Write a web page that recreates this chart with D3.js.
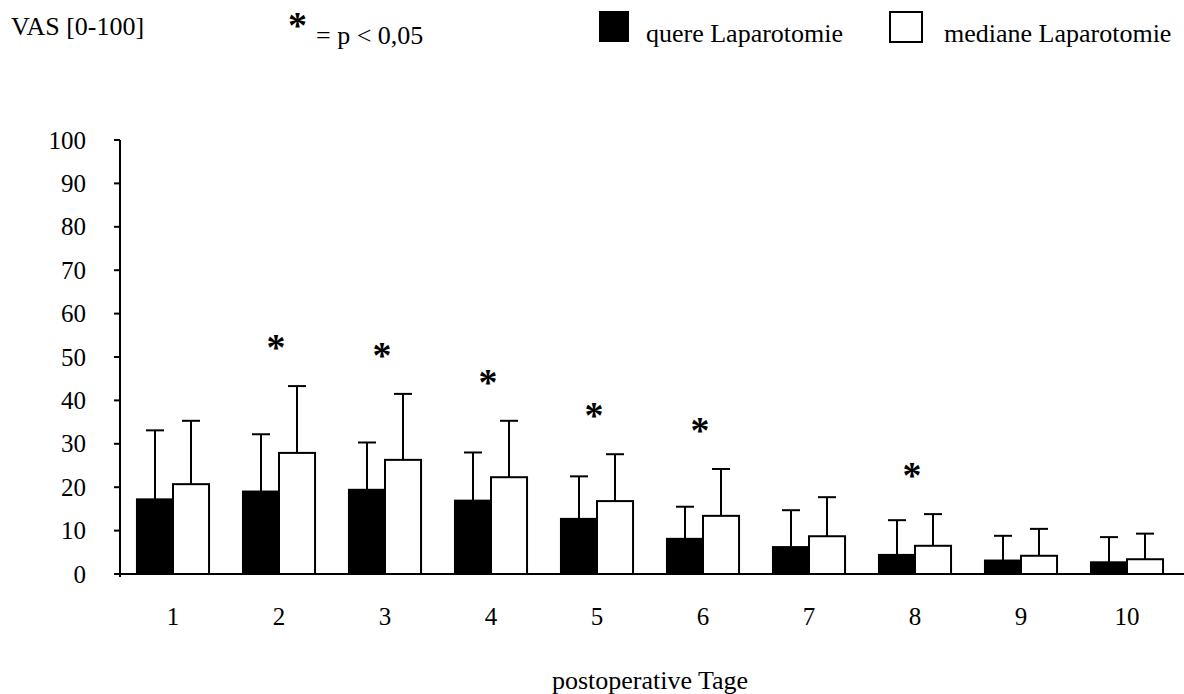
<!DOCTYPE html>
<html>
<head>
<meta charset="utf-8">
<script src="https://cdn.jsdelivr.net/npm/d3@7"></script>
<style>
  body { margin: 0; background: #fff; }
  text { font-family: 'Liberation Serif', 'Times New Roman', serif; fill: #000; }
</style>
</head>
<body>
<svg id="mainChart" width="1184" height="694"></svg>
<script>
const days = [1, 2, 3, 4, 5, 6, 7, 8, 9, 10];
const quereMean = [17.2, 19.0, 19.4, 16.9, 12.7, 8.1, 6.2, 4.4, 3.1, 2.7];
const quereSD = [15.9, 13.2, 10.9, 11.1, 9.8, 7.4, 8.5, 8.0, 5.7, 5.8];
const medianeMean = [20.7, 27.9, 26.3, 22.3, 16.8, 13.4, 8.7, 6.5, 4.2, 3.4];
const medianeSD = [14.6, 15.4, 15.2, 13.0, 10.8, 10.8, 9.0, 7.3, 6.2, 5.9];
const significantDays = [2, 3, 4, 5, 6, 8];
const yTicks = [0, 10, 20, 30, 40, 50, 60, 70, 80, 90, 100];
const groups = ['quer', 'median'];

let svg = d3.select('#mainChart'),
  width = +svg.attr('width'),
  height = +svg.attr('height');

let data = days.map((d, i) => ({
  day: d,
  values: [
    { key: 'quer', mean: quereMean[i], sd: quereSD[i] },
    { key: 'median', mean: medianeMean[i], sd: medianeSD[i] }
  ]
}));

let x = d3.scaleBand()
  .domain(days)
  .range([120, 1180])
  .paddingInner(0.32)
  .paddingOuter(0.16);

let x1 = d3.scaleBand()
  .domain(groups)
  .range([0, x.bandwidth()]);

let y = d3.scaleLinear()
  .domain([0, 100])
  .range([574, 140]);

const fill = { quer: '#000', median: '#fff' };

// bars
let group = svg.append('g')
  .selectAll('g')
  .data(data)
  .enter()
  .append('g')
  .attr('transform', d => `translate(${x(d.day)}, 0)`);

let bar = group.selectAll('g')
  .data(d => d.values)
  .enter()
  .append('g');

// error bars first, bar outline on top
bar.append('line')
  .attr('x1', d => x1(d.key) + x1.bandwidth() / 2)
  .attr('x2', d => x1(d.key) + x1.bandwidth() / 2)
  .attr('y1', d => y(d.mean))
  .attr('y2', d => y(d.mean + d.sd))
  .attr('stroke', '#000')
  .attr('stroke-width', 2);

bar.append('line')
  .attr('x1', d => x1(d.key) + x1.bandwidth() / 2 - 9)
  .attr('x2', d => x1(d.key) + x1.bandwidth() / 2 + 9)
  .attr('y1', d => y(d.mean + d.sd))
  .attr('y2', d => y(d.mean + d.sd))
  .attr('stroke', '#000')
  .attr('stroke-width', 2);

bar.append('rect')
  .attr('x', d => x1(d.key))
  .attr('width', x1.bandwidth())
  .attr('y', d => y(d.mean))
  .attr('height', d => y(0) - y(d.mean))
  .attr('fill', d => fill[d.key])
  .attr('stroke', '#000')
  .attr('stroke-width', 2);

// significance stars
svg.append('g')
  .selectAll('text')
  .data(data.filter(d => significantDays.includes(d.day)))
  .enter()
  .append('text')
  .attr('text-anchor', 'middle')
  .attr('x', d => x(d.day) + x.bandwidth() / 2 - 3)
  .attr('y', d => y(d3.max(d.values, v => v.mean + v.sd)) - 46 + 20)
  .style('font-size', '38px')
  .style('font-weight', 'bold')
  .text('*');

// y axis
let yAxis = svg.append('g');

yAxis.append('line')
  .attr('x1', 120).attr('x2', 120)
  .attr('y1', y(100)).attr('y2', y(0) + 3)
  .attr('stroke', '#000')
  .attr('stroke-width', 2);

yAxis.selectAll('line.tick')
  .data(yTicks)
  .enter()
  .append('line')
  .attr('class', 'tick')
  .attr('x1', 114).attr('x2', 120)
  .attr('y1', d => y(d)).attr('y2', d => y(d))
  .attr('stroke', '#000')
  .attr('stroke-width', 2);

yAxis.selectAll('text')
  .data(yTicks)
  .enter()
  .append('text')
  .attr('text-anchor', 'end')
  .attr('x', 86)
  .attr('y', d => y(d) + 8.5)
  .style('font-size', '25px')
  .text(d => d);

// x axis
svg.append('line')
  .attr('x1', 114).attr('x2', width)
  .attr('y1', y(0)).attr('y2', y(0))
  .attr('stroke', '#000')
  .attr('stroke-width', 2);

svg.append('g')
  .selectAll('text')
  .data(days)
  .enter()
  .append('text')
  .attr('text-anchor', 'middle')
  .attr('x', d => x(d) + x.bandwidth() / 2)
  .attr('y', 625)
  .style('font-size', '25px')
  .text(d => d);

svg.append('text')
  .attr('text-anchor', 'middle')
  .attr('x', 650)
  .attr('y', 689)
  .style('font-size', '26px')
  .text('postoperative Tage');

// header
svg.append('text')
  .attr('x', 11)
  .attr('y', 35)
  .style('font-size', '26px')
  .text('VAS [0-100]');

svg.append('text')
  .attr('x', 288)
  .attr('y', 38)
  .style('font-size', '38px')
  .style('font-weight', 'bold')
  .text('*');

svg.append('text')
  .attr('x', 316)
  .attr('y', 44)
  .style('font-size', '26px')
  .text('= p < 0,05');

let legend = svg.append('g');

legend.append('rect')
  .attr('x', 599).attr('y', 11)
  .attr('width', 30).attr('height', 31)
  .attr('fill', '#000');

legend.append('text')
  .attr('x', 646)
  .attr('y', 42)
  .style('font-size', '26px')
  .text('quere Laparotomie');

legend.append('rect')
  .attr('x', 890).attr('y', 12)
  .attr('width', 32).attr('height', 30)
  .attr('fill', '#fff')
  .attr('stroke', '#000')
  .attr('stroke-width', 2);

legend.append('text')
  .attr('x', 944)
  .attr('y', 42)
  .style('font-size', '26px')
  .text('mediane Laparotomie');
</script>
</body>
</html>
